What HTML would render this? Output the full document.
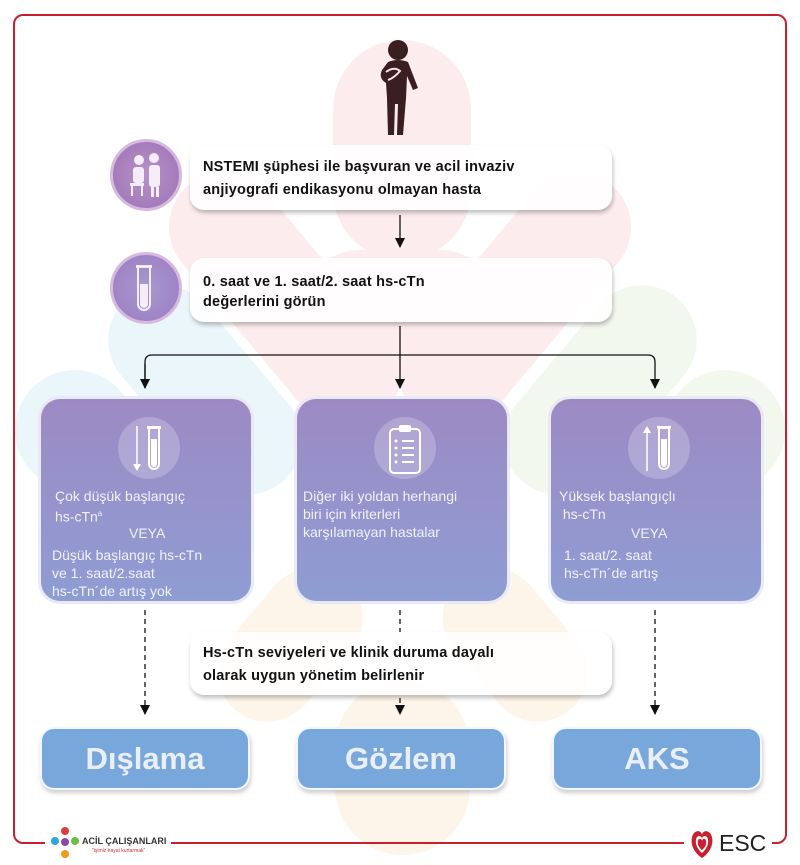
<!DOCTYPE html>
<html><head><meta charset="utf-8"><style>
*{margin:0;padding:0;box-sizing:border-box}
body{width:800px;height:865px;background:#fff;position:relative;overflow:hidden;font-family:"Liberation Sans",sans-serif}
.abs{position:absolute}
.frame{left:13px;top:14px;width:774px;height:830px;border:2px solid #c8202e;border-radius:10px}
.box{position:absolute;background:rgba(255,255,255,0.88);border-radius:14px;box-shadow:1px 3px 4px rgba(0,0,0,0.25);font-weight:bold;font-size:14.5px;color:#111;line-height:23px;padding:11px 0 0 13px;letter-spacing:0.2px}
.card{position:absolute;top:396px;width:216px;height:208px;border-radius:22px;background:linear-gradient(#9d8ac4,#8e9dd3);border:3px solid rgba(255,255,255,0.8);color:#f2f0fa;font-size:14px;line-height:18px}
.card .ic{position:absolute;left:77px;top:18px;width:62px;height:62px;border-radius:50%;background:rgba(255,255,255,0.22)}
.blue{position:absolute;top:727px;width:210px;height:63px;border-radius:14px;background:#78a8db;border:2px solid rgba(255,255,255,0.9);box-shadow:1px 3px 4px rgba(0,0,0,0.2);color:#e9eef7;font-weight:bold;font-size:31px;text-align:center;line-height:60px}
.circ{position:absolute;width:72px;height:72px;border-radius:50%;background:radial-gradient(#b792c8,#9d72b4);border:3px solid #d7b9e0}
.pk{background:#fdeced}.bl{background:#ebf6fb}.gr{background:#f3f8ee}.or{background:#fef5ea}
</style></head><body>
<div class="abs pk" style="left:333px;top:40px;width:138px;height:220px;border-radius:69px"></div>
<div class="abs pk" style="left:230px;top:150px;width:110px;height:300px;border-radius:55px;transform:rotate(-40deg)"></div>
<div class="abs pk" style="left:460px;top:150px;width:110px;height:300px;border-radius:55px;transform:rotate(40deg)"></div>
<div class="abs pk" style="left:300px;top:250px;width:200px;height:130px;border-radius:60px"></div>
<div class="abs bl" style="left:15px;top:370px;width:120px;height:120px;border-radius:60px"></div>
<div class="abs bl" style="left:150px;top:270px;width:110px;height:240px;border-radius:55px;transform:rotate(-40deg)"></div>
<div class="abs gr" style="left:665px;top:370px;width:120px;height:120px;border-radius:60px"></div>
<div class="abs gr" style="left:545px;top:270px;width:110px;height:240px;border-radius:55px;transform:rotate(40deg)"></div>
<div class="abs or" style="left:335px;top:680px;width:135px;height:175px;border-radius:68px"></div>
<div class="abs or" style="left:240px;top:560px;width:100px;height:170px;border-radius:50px;transform:rotate(40deg)"></div>
<div class="abs or" style="left:465px;top:560px;width:100px;height:170px;border-radius:50px;transform:rotate(-40deg)"></div>
<div class="abs frame"></div>
<div class="abs" style="left:45px;top:828px;width:126px;height:37px;background:#fff"></div>
<div class="abs" style="left:684px;top:828px;width:88px;height:37px;background:#fff"></div>
<svg class="abs" style="left:370px;top:38px" width="60" height="100" viewBox="0 0 60 100">
<g fill="#3a1f20"><circle cx="28" cy="12" r="10"/><path d="M18 24 Q28 20 38 24 L48 50 L43 52 L37 38 L36 60 L33 97 L27 97 L28 66 L25 66 L24 97 L18 97 L17 60 L16 45 Q8 40 12 32 Z"/></g>
<path d="M16 34 Q24 28 30 33 Q24 40 18 42" fill="none" stroke="#fbe3e6" stroke-width="2"/></svg>
<div class="circ" style="left:110px;top:139px"></div>
<svg class="abs" style="left:122px;top:150px" width="50" height="50"><g fill="#f4ecf7"><circle cx="17" cy="10" r="5"/><circle cx="32" cy="8" r="5"/><rect x="11" y="17" width="11" height="16" rx="3"/><rect x="27" y="15" width="11" height="22" rx="3"/><rect x="8" y="33" width="14" height="3"/><rect x="9" y="36" width="2" height="10"/><rect x="19" y="36" width="2" height="10"/><rect x="29" y="37" width="3" height="10"/><rect x="34" y="37" width="3" height="10"/></g></svg>
<div class="box" style="left:190px;top:145px;width:422px;height:65px">NSTEMI şüphesi ile başvuran ve acil invaziv<br>anjiyografi endikasyonu olmayan hasta</div>
<div class="circ" style="left:110px;top:252px;background:radial-gradient(#a898d0,#9b7cc0)"></div>
<svg class="abs" style="left:132px;top:262px" width="30" height="55"><rect x="4" y="3" width="16" height="3" fill="#f4ecf7"/><path d="M6 6 V42 a6 6 0 0 0 12 0 V6" fill="none" stroke="#f4ecf7" stroke-width="2"/><path d="M8 22 V42 a4 4 0 0 0 8 0 V22Z" fill="#f4ecf7"/></svg>
<div class="box" style="left:190px;top:258px;width:422px;height:64px;padding-top:14px;line-height:20px">0. saat ve 1. saat/2. saat hs-cTn<br>değerlerini görün</div>
<svg class="abs" style="left:0;top:0" width="800" height="865">
<defs><marker id="b" markerWidth="10" markerHeight="10" refX="5" refY="9" markerUnits="userSpaceOnUse"><path d="M0 0 L10 0 L5 10Z" fill="#111"/></marker></defs>
<g stroke="#111" stroke-width="1.3" fill="none">
<line x1="400" y1="215" x2="400" y2="247" marker-end="url(#b)"/>
<line x1="400" y1="326" x2="400" y2="388" marker-end="url(#b)"/>
<path d="M145 388 V362 Q145 355 152 355 H648 Q655 355 655 362 V388" marker-end="url(#b)"/>
<line x1="145" y1="364" x2="145" y2="388" marker-end="url(#b)"/>
<g stroke-dasharray="5,4"><line x1="145" y1="610" x2="145" y2="714" marker-end="url(#b)"/><line x1="655" y1="610" x2="655" y2="714" marker-end="url(#b)"/><line x1="400" y1="610" x2="400" y2="632"/><line x1="400" y1="698" x2="400" y2="714" marker-end="url(#b)"/></g>
</g></svg>
<div class="card" style="left:38px"><div class="ic"></div>
<svg class="abs" style="left:88px;top:25px" width="40" height="50"><path d="M8 2 V44" stroke="#fff" stroke-width="1.5"/><path d="M4 40 L8 47 L12 40Z" fill="#fff"/><rect x="18" y="2" width="14" height="3" fill="#fff"/><path d="M20 5 V40 a5 5 0 0 0 10 0 V5" fill="none" stroke="#fff" stroke-width="2"/><path d="M22 15 V40 a3 3 0 0 0 6 0 V15Z" fill="#fff"/></svg>
<div class="abs" style="left:14px;top:88px">Çok düşük başlangıç<br>hs-cTn<sup style="font-size:8px">a</sup></div>
<div class="abs" style="left:88px;top:125px">VEYA</div>
<div class="abs" style="left:11px;top:147px">Düşük başlangıç hs-cTn<br>ve 1. saat/2.saat<br>hs-cTn´de artış yok</div></div>
<div class="card" style="left:294px"><div class="ic"></div>
<svg class="abs" style="left:90px;top:24px" width="36" height="52"><rect x="3" y="6" width="30" height="44" rx="4" fill="none" stroke="#fff" stroke-width="2"/><rect x="12" y="2" width="12" height="7" rx="2" fill="#fff"/><g stroke="#fff" stroke-width="2"><line x1="15" y1="18" x2="27" y2="18"/><line x1="15" y1="25" x2="27" y2="25"/><line x1="15" y1="32" x2="27" y2="32"/><line x1="15" y1="39" x2="27" y2="39"/></g><g fill="#fff"><circle cx="9" cy="18" r="1.5"/><circle cx="9" cy="25" r="1.5"/><circle cx="9" cy="32" r="1.5"/><circle cx="9" cy="39" r="1.5"/></g></svg>
<div class="abs" style="left:6px;top:88px">Diğer iki yoldan herhangi<br>biri için kriterleri<br>karşılamayan hastalar</div></div>
<div class="card" style="left:548px"><div class="ic"></div>
<svg class="abs" style="left:88px;top:25px" width="40" height="50"><path d="M8 6 V47" stroke="#fff" stroke-width="1.5"/><path d="M4 9 L8 2 L12 9Z" fill="#fff"/><rect x="18" y="2" width="14" height="3" fill="#fff"/><path d="M20 5 V40 a5 5 0 0 0 10 0 V5" fill="none" stroke="#fff" stroke-width="2"/><path d="M22 15 V40 a3 3 0 0 0 6 0 V15Z" fill="#fff"/></svg>
<div class="abs" style="left:8px;top:88px">Yüksek başlangıçlı<br>&nbsp;hs-cTn</div>
<div class="abs" style="left:80px;top:125px">VEYA</div>
<div class="abs" style="left:13px;top:147px">1. saat/2. saat<br>hs-cTn´de artış</div></div>
<div class="box" style="left:190px;top:632px;width:422px;height:63px;padding-top:10px">Hs-cTn seviyeleri ve klinik duruma dayalı<br>olarak uygun yönetim belirlenir</div>
<div class="blue" style="left:40px">Dışlama</div>
<div class="blue" style="left:296px">Gözlem</div>
<div class="blue" style="left:552px">AKS</div>
<svg class="abs" style="left:50px;top:826px" width="30" height="35"><circle cx="15" cy="5" r="4" fill="#e23b3b"/><circle cx="5" cy="15" r="4" fill="#2aa6df"/><circle cx="25" cy="15" r="4" fill="#6cbe45"/><circle cx="15" cy="28" r="4" fill="#f39a1e"/><circle cx="15" cy="16" r="4" fill="#8e44ad"/></svg>
<div class="abs" style="left:82px;top:836px;font-size:9px;font-weight:bold;color:#333">ACİL ÇALIŞANLARI</div>
<div class="abs" style="left:92px;top:848px;font-size:5px;color:#c33">"işimiz hayat kurtarmak"</div>
<svg class="abs" style="left:688px;top:828px" width="28" height="32"><path d="M14 30 C2 22 2 10 6 5 C10 1 14 4 14 7 C14 4 18 1 22 5 C26 10 26 22 14 30Z" fill="#c8202e"/><path d="M14 25 C7 19 7 12 9 9 C12 7 14 9 14 11 C14 9 16 7 19 9 C21 12 21 19 14 25Z" fill="#fff"/><path d="M14 22 C9 18 9 13 11 11 C13 10 14 12 14 13 C14 12 15 10 17 11 C19 13 19 18 14 22Z" fill="#c8202e"/></svg>
<div class="abs" style="left:719px;top:830px;font-size:23px;color:#222">ESC</div>
</body></html>
